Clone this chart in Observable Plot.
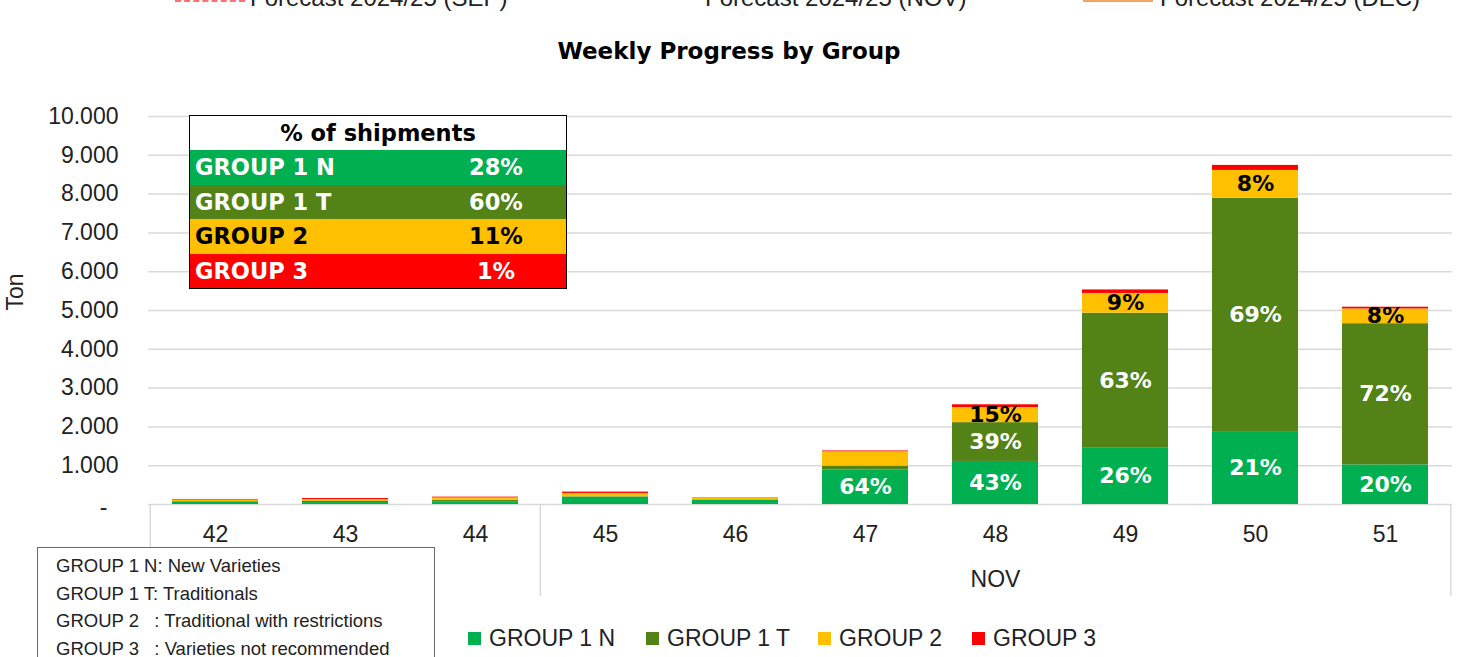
<!DOCTYPE html>
<html><head><meta charset="utf-8">
<script src="https://cdn.jsdelivr.net/npm/d3@7"></script>
<script src="https://cdn.jsdelivr.net/npm/@observablehq/plot@0.6"></script>
<style>
body{margin:0;background:#fff;}
#wrap{position:relative;width:1458px;height:657px;overflow:hidden;font-family:"Liberation Sans",Arial,sans-serif;color:#222;}
#wrap svg{position:absolute;left:0;top:0;}
.abs{position:absolute;white-space:pre;}
#title{left:0;width:1458px;top:37px;text-align:center;font:bold 23px/28px "DejaVu Sans",sans-serif;color:#000;}
.fc{font-size:24px;line-height:24px;top:-14px;color:#222;}
#table{left:189px;top:115px;width:378px;border:1.5px solid #000;box-sizing:border-box;border-collapse:collapse;font:bold 22.5px "DejaVu Sans",sans-serif;}
#table td{padding:0;height:34.5px;}
#note{left:37px;top:547px;width:398px;height:140px;border:1.5px solid #6b6b6b;box-sizing:border-box;background:#fff;padding:4px 0 0 18px;font-size:18.5px;line-height:27.7px;color:#222;}
.lg{top:624px;font-size:23px;line-height:28px;color:#222;}
.sq{position:absolute;width:13px;height:13px;left:0;top:8px;}
</style></head><body><div id="wrap"></div>
<script>
// ---- data ----
const weeks = ["42","43","44","45","46","47","48","49","50","51"];
const groups = ["GROUP 1 N","GROUP 1 T","GROUP 2","GROUP 3"];
const colors = ["#00B050","#538216","#FFC000","#FF0000"];
const g1n = [60, 50, 60, 190, 110, 890, 1110, 1450, 1860, 1020];
const g1t = [15, 30, 50, 10, 10, 100, 1000, 3480, 6030, 3640];
const g2  = [40, 50, 60, 85, 55, 370, 390, 510, 720, 380];
const g3  = [15, 25, 20, 35, 5, 20, 70, 90, 130, 45];
const lab1n = ["","","","","","64%","43%","26%","21%","20%"];
const lab1t = ["","","","","","","39%","63%","69%","72%"];
const lab2  = ["","","","","","","15%","9%","8%","8%"];
const lab3  = ["","","","","","","","","",""];
const yTicks = [0,1000,2000,3000,4000,5000,6000,7000,8000,9000,10000];
const monthGroups = ["", "NOV"];
const monthCenter = ["", "48"];
const monthStart = ["42", "45"];
const shareLabels = ["28%","60%","11%","1%"];
const shareHeader = "% of shipments";
const noteLines = ["GROUP 1 N: New Varieties","GROUP 1 T: Traditionals","GROUP 2   : Traditional with restrictions","GROUP 3   : Varieties not recommended"];
const forecastNames = ["Forecast 2024/25 (SEP)","Forecast 2024/25 (NOV)","Forecast 2024/25 (DEC)"];
const title = "Weekly Progress by Group";
const yLabel = "Ton";

// ---- build rows ----
const series = [g1n, g1t, g2, g3];
const labels = [lab1n, lab1t, lab2, lab3];
const rows = [];
weeks.forEach((w, i) => {
  let base = 0;
  groups.forEach((g, j) => {
    const v = series[j][i];
    rows.push({week: w, group: g, value: v, label: labels[j][i], mid: base + v / 2, dark: j === 2});
    base += v;
  });
});
const whiteRows = rows.filter(d => d.label && !d.dark);
const blackRows = rows.filter(d => d.label && d.dark);

const W = 1458, H = 657, mL = 148, mR = 6, mT = 116, mB = 153;
const step = (W - mL - mR) / weeks.length;
const fmt = v => v === 0 ? "-" : d3.format(",")(v).replace(/,/g, ".");
const sansB = "DejaVu Sans, sans-serif";

const plot = Plot.plot({
  width: W, height: H,
  marginLeft: mL, marginRight: mR, marginTop: mT, marginBottom: mB,
  style: {fontFamily: "Liberation Sans, Arial, sans-serif", background: "transparent", overflow: "visible"},
  x: {domain: weeks, paddingInner: 0.335, paddingOuter: 0.1675, axis: null},
  y: {domain: [0, 10000], axis: null},
  color: {domain: groups, range: colors},
  marks: [
    Plot.ruleY(yTicks, {y: d => d, stroke: "#D9D9D9", strokeWidth: 1.5}),
    Plot.ruleX(monthStart, {x: d => d, dx: -step / 2, y1: 0, y2: -2370, stroke: "#D9D9D9", strokeWidth: 1.5}),
    Plot.ruleX([weeks[weeks.length - 1]], {x: d => d, dx: step / 2, y1: 0, y2: -2370, stroke: "#D9D9D9", strokeWidth: 1.5}),
    Plot.barY(rows, {x: "week", y: "value", fill: "group"}),
    Plot.text(whiteRows, {x: "week", y: "mid", text: "label", fill: "white", fontWeight: "bold", fontSize: 22, fontFamily: sansB}),
    Plot.text(blackRows, {x: "week", y: "mid", text: "label", fill: "black", fontWeight: "bold", fontSize: 22, fontFamily: sansB}),
    Plot.text(yTicks.filter(d => d > 0), {y: d => d, text: fmt, frameAnchor: "left", dx: -30, textAnchor: "end", fontSize: 23, fill: "#222"}),
    Plot.text([0], {y: d => d, text: fmt, frameAnchor: "left", dx: -45, dy: 3, textAnchor: "middle", fontSize: 23, fill: "#222"}),
    Plot.text(weeks, {x: d => d, text: d => d, frameAnchor: "bottom", dy: 37, fontSize: 23, fill: "#222"}),
    Plot.text(monthGroups.map((m, i) => ({m, c: monthCenter[i]})).filter(d => d.m), {x: "c", text: "m", frameAnchor: "bottom", dy: 82, fontSize: 23, fill: "#222"}),
    Plot.text([yLabel], {frameAnchor: "left", dx: -133, rotate: -90, fontSize: 23, fill: "#222"})
  ]
});
const wrap = document.getElementById("wrap");
wrap.appendChild(plot);

// title
const t = document.createElement("div"); t.className = "abs"; t.id = "title"; t.textContent = title; wrap.appendChild(t);

// top forecast legend (cropped at the top)
const fcPos = [{line: 175, text: 250, style: "border-top:3px dashed #FF7070"}, {line: null, text: 705}, {line: 1083, text: 1160, style: "border-top:3px solid #F4A460"}];
forecastNames.forEach((n, i) => {
  const p = fcPos[i];
  if (p.line !== null) {
    const l = document.createElement("div"); l.className = "abs";
    l.style.cssText = `left:${p.line}px;top:-1px;width:70px;height:0;${p.style}`;
    wrap.appendChild(l);
  }
  const s = document.createElement("div"); s.className = "abs fc"; s.style.left = p.text + "px"; s.textContent = n; wrap.appendChild(s);
});

// shipments table
const tb = document.createElement("table"); tb.className = "abs"; tb.id = "table";
let html = `<tr><td colspan="2" style="background:#fff;color:#000;text-align:center;height:34px">${shareHeader}</td></tr>`;
groups.forEach((g, j) => {
  const fg = j === 2 ? "#000" : "#fff";
  html += `<tr style="background:${colors[j]};color:${fg}"><td style="width:231px;padding-left:5px">${g}</td><td style="text-align:center">${shareLabels[j]}</td></tr>`;
});
tb.innerHTML = html; wrap.appendChild(tb);

// note box
const nb = document.createElement("div"); nb.className = "abs"; nb.id = "note";
nb.textContent = noteLines.join("\n"); wrap.appendChild(nb);

// bottom legend
const lgPos = [468, 646, 818, 972];
groups.forEach((g, j) => {
  const it = document.createElement("div"); it.className = "abs lg"; it.style.left = lgPos[j] + "px";
  it.innerHTML = `<span class="sq" style="background:${colors[j]}"></span><span style="padding-left:21px">${g}</span>`;
  wrap.appendChild(it);
});
</script></body></html>
